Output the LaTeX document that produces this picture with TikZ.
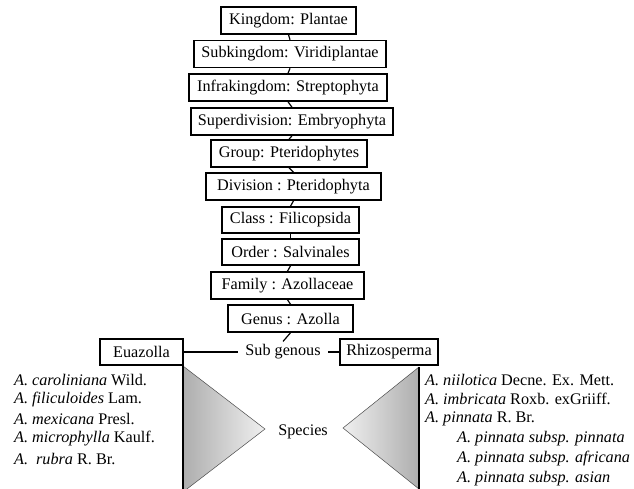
\documentclass[tikz,border=0pt]{standalone}
\usepackage{fontspec}
\setmainfont{Liberation Serif}
\begin{document}
\begin{tikzpicture}[x=1pt,y=-1pt,
  every node/.style={font=\fontsize{16.2}{19}\selectfont},
  taxbox/.style={draw, line width=1.5pt, minimum height=27pt, inner sep=0pt},
  link/.style={line width=1.2pt},
  item/.style={anchor=west, inner sep=0pt}]
\useasboundingbox (0,0) rectangle (634,488);
% hierarchy boxes
\node[taxbox, minimum width=135pt] (kin) at (288.5,20.5) {Kingdom: Plantae};
\node[taxbox, minimum width=192pt] (sub) at (290,54) {Subkingdom: Viridiplantae};
\node[taxbox, minimum width=198pt] (inf) at (288,87.5) {Infrakingdom: Streptophyta};
\node[taxbox, minimum width=202pt] (sup) at (292,121.5) {Superdivision: Embryophyta};
\node[taxbox, minimum width=156pt] (grp) at (289,153.5) {Group: Pteridophytes};
\node[taxbox, minimum width=175pt] (div) at (293.5,186.5) {Division : Pteridophyta\hspace{10pt}};
\node[taxbox, minimum width=137pt, minimum height=26pt] (cls) at (290.5,220) {Class : Filicopsida};
\node[taxbox, minimum width=137pt, minimum height=26pt] (ord) at (290.5,252) {Order : Salvinales};
\node[taxbox, minimum width=153pt] (fam) at (287.5,285.5) {Family : Azollaceae\hspace{4pt}};
\node[taxbox, minimum width=125pt] (gen) at (290.5,318.5) {Genus : Azolla};
\foreach \a/\b in {kin/sub,sub/inf,inf/sup,sup/grp,grp/div,div/cls,cls/ord,ord/fam,fam/gen}
  \draw[link] (\a.south) -- (\b.north);
% sub genera
\node[taxbox, minimum width=83pt, minimum height=26pt] (eua) at (141.5,352) {Euazolla};
\node[taxbox, minimum width=98pt, minimum height=26pt] (rhi) at (389,352) {Rhizosperma};
\node[inner xsep=7pt, inner ysep=3pt] (sg) at (283,352) {Sub genous};
\draw[link] (gen.south) -- (sg.north);
\draw[link] (eua.east) -- (sg.west);
\draw[link] (rhi.west) -- (sg.east);
% triangles
\coordinate (lt) at (183,366);
\coordinate (la) at (265,429);
\coordinate (lb) at (183,492);
\coordinate (rt) at (419,367);
\coordinate (ra) at (343,428);
\coordinate (rb) at (419,489);
\shade[left color=black!32, right color=black!6] (lt) -- (la) -- (lb) -- cycle;
\draw[line width=0.5pt, black!70] (lt) -- (la) -- (lb);
\draw[line width=1.5pt] (183,339) -- (lb);
\shade[left color=black!6, right color=black!32] (rt) -- (ra) -- (rb) -- cycle;
\draw[line width=0.5pt, black!70] (rt) -- (ra) -- (rb);
\draw[line width=1.3pt] (rt) -- (rb);
\node (spc) at (303,432) {Species};
% left species
\node[item] (l1) at (14,380) {\textit{A. caroliniana} Wild.};
\node[item] (l2) at (14,400) {\textit{A. filiculoides} Lam.};
\node[item] (l3) at (14,419) {\textit{A. mexicana} Presl.};
\node[item] (l4) at (14,439) {\textit{A. microphylla} Kaulf.};
\node[item] (l5) at (14,459) {\textit{A.}\hspace{8pt}\textit{rubra} R. Br.};
% right species
\node[item] (r1) at (425,380) {\textit{A. niilotica} Decne. Ex. Mett.};
\node[item] (r2) at (425,399) {\textit{A. imbricata} Roxb. exGriiff.};
\node[item] (r3) at (425,419) {\textit{A. pinnata} R. Br.};
\node[item] (r4) at (457,439) {\textit{A. pinnata subsp. pinnata}};
\node[item] (r5) at (457,459) {\textit{A. pinnata subsp. africana}};
\node[item] (r6) at (457,479) {\textit{A. pinnata subsp. asian}};
\end{tikzpicture}
\end{document}
